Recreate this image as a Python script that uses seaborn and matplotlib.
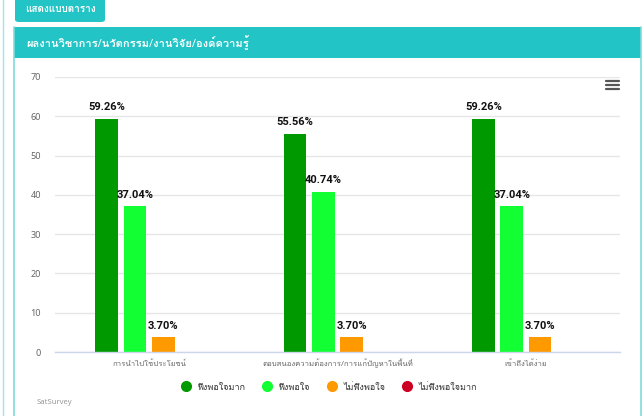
#!/usr/bin/env python3
# -*- coding: utf-8 -*-

import numpy as np
import pandas as pd
import matplotlib
matplotlib.use("Agg")
import matplotlib.pyplot as plt
import seaborn as sns
from matplotlib import font_manager
from matplotlib.ft2font import FT2Font
from matplotlib.lines import Line2D
from matplotlib.patches import Rectangle, FancyBboxPatch

# ---- data ----
categories = [
    "การนำไปใช้ประโยชน์",
    "ตอบสนองความต้องการ/การแก้ปัญหาในพื้นที่",
    "เข้าถึงได้ง่าย",
]
levels = ["พึงพอใจมาก", "พึงพอใจ", "ไม่พึงพอใจ", "ไม่พึงพอใจมาก"]
very_satisfied = [59.26, 55.56, 59.26]
satisfied = [37.04, 40.74, 37.04]
unsatisfied = [3.70, 3.70, 3.70]
very_unsatisfied = [0.0, 0.0, 0.0]
level_colors = ["#009900", "#11ff33", "#ff9900", "#cc0022"]
y_ticks = [0, 10, 20, 30, 40, 50, 60, 70]

button_text = "แสดงแบบตาราง"
panel_title = "ผลงานวิชาการ/นวัตกรรม/งานวิจัย/องค์ความรู้"
credit_text = "SatSurvey"

TEAL = "#22c4c6"
W, H = 644, 416


def find_thai_family():
    # pick an installed family that actually has Thai glyphs
    for entry in font_manager.fontManager.ttflist:
        try:
            f = FT2Font(entry.fname)
            if f.get_char_index(ord("ก")):
                return entry.name
        except Exception:
            continue
    return "DejaVu Sans"


def fx(x):
    return x / W


def fy(y):
    return 1 - y / H


def main():
    sns.set_theme(style="white")
    thai = find_thai_family()
    plt.rcParams["font.family"] = ["Noto Sans", thai, "DejaVu Sans"]

    fig = plt.figure(figsize=(W / 100, H / 100), dpi=100)
    fig.patch.set_facecolor("white")

    # page frame and header decorations
    fig.add_artist(Line2D([fx(2.5), fx(2.5)], [0, 1], color="#9be6e6", lw=1))
    fig.add_artist(Line2D([fx(14), fx(14)], [0, fy(27)], color="#7fdcdc", lw=1.2))
    fig.add_artist(Line2D([fx(641), fx(641)], [0, fy(27)], color="#7fdcdc", lw=1.2))
    fig.add_artist(FancyBboxPatch((fx(15), fy(22)), fx(90), fy(-3) - fy(22),
                                  boxstyle="round,pad=0,rounding_size=0.006",
                                  fc=TEAL, ec="none"))
    fig.text(fx(60), fy(10), button_text, color="white", fontsize=7.2,
             fontweight="bold", ha="center", va="center")
    fig.add_artist(Rectangle((fx(14), fy(58)), fx(627), fy(27) - fy(58),
                             fc=TEAL, ec="none"))
    fig.text(fx(26), fy(43), panel_title, color="white", fontsize=8,
             fontweight="bold", ha="left", va="center")

    # hamburger menu
    for yy in (81, 85, 89):
        fig.add_artist(Line2D([fx(606), fx(619)], [fy(yy), fy(yy)],
                              color="#555555", lw=1.6))

    fig.text(fx(37), fy(403), credit_text, color="#999999", fontsize=5.5,
             ha="left", va="center")

    # ---- chart ----
    df = pd.DataFrame({
        "category": np.repeat(categories, len(levels)),
        "level": levels * len(categories),
        "value": np.column_stack([very_satisfied, satisfied,
                                  unsatisfied, very_unsatisfied]).ravel(),
    })

    ax = fig.add_axes([fx(55), fy(352), fx(620) - fx(55), fy(77) - fy(352)])
    sns.barplot(data=df, x="category", y="value", hue="level",
                order=categories, hue_order=levels, palette=level_colors,
                width=0.6, gap=0.2, linewidth=0, saturation=1,
                legend=False, ax=ax)

    for cont in ax.containers:
        labels = [f"{b.get_height():.2f}%" if b.get_height() > 0 else ""
                  for b in cont]
        ax.bar_label(cont, labels=labels, padding=5, fontsize=8,
                     fontweight="bold", color="#111111",
                     family=["Roboto", "DejaVu Sans"])

    ax.set_ylim(0, 70)
    ax.set_yticks(y_ticks)
    ax.set_xlim(-0.5, len(categories) - 0.5)
    ax.yaxis.grid(True, color="#e6e6e6", lw=1)
    ax.set_axisbelow(True)
    for side in ("top", "right", "left"):
        ax.spines[side].set_visible(False)
    ax.spines["bottom"].set_color("#ccd6eb")
    ax.spines["bottom"].set_linewidth(1)
    ax.tick_params(axis="y", length=0, pad=10, labelsize=6.5, labelcolor="#666666")
    ax.tick_params(axis="x", length=0, pad=10, labelsize=5.6, labelcolor="#666666")
    for lbl in ax.get_xticklabels():
        lbl.set_verticalalignment("baseline")
    ax.set_xlabel("")
    ax.set_ylabel("")

    handles = [Line2D([], [], marker="o", ls="none", markersize=7,
                      markerfacecolor=c, markeredgecolor=c) for c in level_colors]
    fig.legend(handles, levels, loc="center", bbox_to_anchor=(fx(327), fy(387)),
               ncol=4, frameon=False, fontsize=6.5, handletextpad=0.3,
               columnspacing=1.4, labelcolor="#333333")

    fig.savefig("out.png", dpi=100)


if __name__ == "__main__":
    main()
